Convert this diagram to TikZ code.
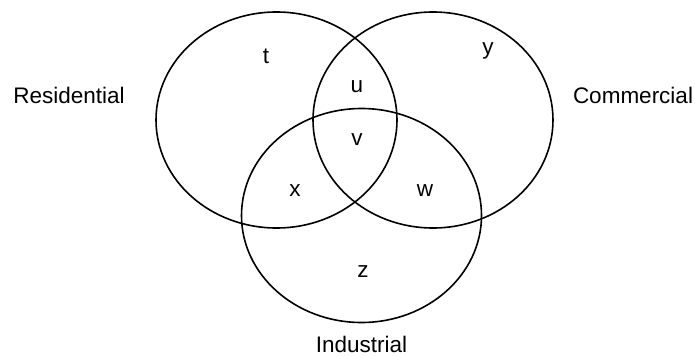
\documentclass[tikz,border=0pt]{standalone}
\usepackage{fontspec}
\setmainfont{Liberation Sans}
\begin{document}
\begin{tikzpicture}[x=1pt,y=-1pt,
  setline/.style={line width=1.6pt,black},
  lbl/.style={anchor=base,inner sep=0pt,font=\fontsize{22.5}{26}\selectfont}]
\useasboundingbox (0,0) rectangle (695,356);
\coordinate (cr) at (276.5,120);
\coordinate (cc) at (433,120);
\coordinate (ci) at (361.5,215.5);
\draw[setline] (cr) ellipse [x radius=120.5, y radius=108];
\draw[setline] (cc) ellipse [x radius=120, y radius=108];
\draw[setline] (ci) ellipse [x radius=120, y radius=107];
\node[lbl] (t) at (266,63) {t};
\node[lbl] (u) at (357,92) {u};
\node[lbl] (v) at (357,145) {v};
\node[lbl] (x) at (295,196) {x};
\node[lbl] (w) at (425,196) {w};
\node[lbl] (y) at (488,54) {y};
\node[lbl] (z) at (363,277) {z};
\node[lbl] (res) at (69,103) {Residential};
\node[lbl] (com) at (633,103) {Commercial};
\node[lbl] (ind) at (361.5,352) {Industrial};
\end{tikzpicture}
\end{document}
